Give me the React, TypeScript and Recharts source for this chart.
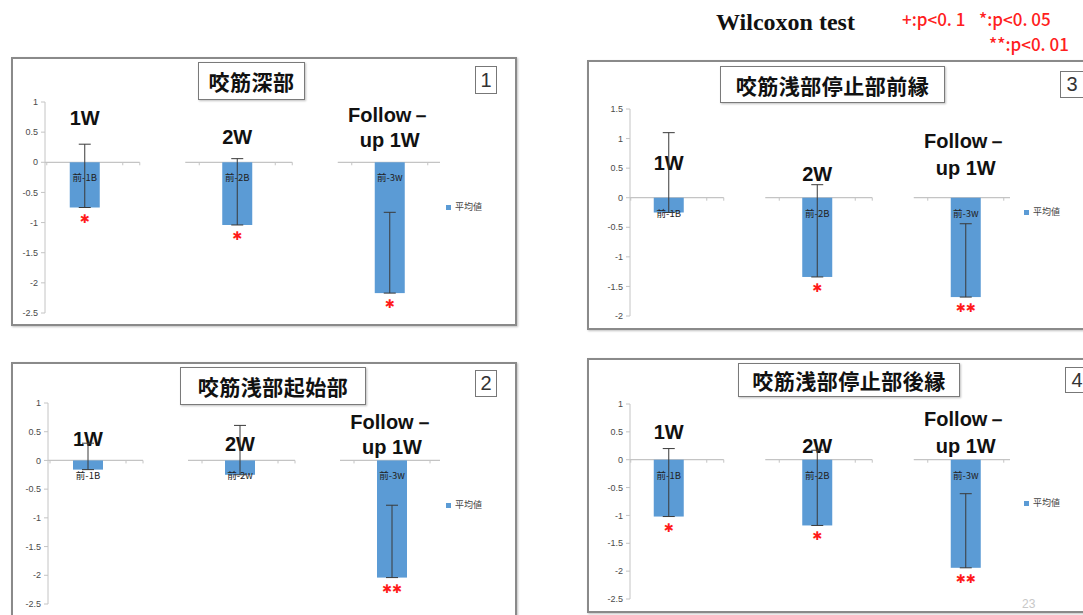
import React from 'react';
import { BarChart, Bar, XAxis, YAxis, ErrorBar, Legend } from 'recharts';

// ---------- data ----------
const periods = ['1W', '2W', 'Follow－up 1W'];
const seriesName = '平均値';

const titles = ['咬筋深部', '咬筋浅部起始部', '咬筋浅部停止部前縁', '咬筋浅部停止部後縁'];
const panelNumbers = ['1', '2', '3', '4'];

const tags1 = ['前-1B', '前-2B', '前-3w'];
const means1 = [-0.75, -1.04, -2.17];
const sd1 = [1.05, 1.1, 1.34];
const sig1 = ['*', '*', '*'];

const tags2 = ['前-1B', '前-2w', '前-3w'];
const means2 = [-0.16, -0.25, -2.04];
const sd2 = [0.46, 0.86, 1.26];
const sig2 = ['', '', '**'];

const tags3 = ['前-1B', '前-2B', '前-3w'];
const means3 = [-0.25, -1.34, -1.68];
const sd3 = [1.35, 1.56, 1.24];
const sig3 = ['', '*', '**'];

const tags4 = ['前-1B', '前-2B', '前-3w'];
const means4 = [-1.02, -1.18, -1.94];
const sd4 = [1.22, 1.35, 1.33];
const sig4 = ['*', '*', '**'];

const ticksA = [1, 0.5, 0, -0.5, -1, -1.5, -2, -2.5];
const ticksB = [1.5, 1, 0.5, 0, -0.5, -1, -1.5, -2];

const testName = 'Wilcoxon test';
const sigLegend = ['+:p<0. 1', '*:p<0. 05', '**:p<0. 01'];
const pageNo = '23';

// ---------- build ----------
const build = (tags: string[], means: number[], sd: number[], sig: string[]) =>
  periods.map((period, i) => ({
    idx: i,
    period,
    tag: tags[i],
    mean: means[i],
    err: [0, sd[i]],
    sig: sig[i],
  }));

// layout (page coordinates)
const panels = [
  {
    data: build(tags1, means1, sd1, sig1), title: titles[0], num: panelNumbers[0],
    domain: [-2.5, 1], ticks: ticksA,
    box: { l: 11, t: 57, w: 506, h: 269 },
    plot: { l: 45, t: 102, b: 313, r: 440 },
    centers: [85, 238, 390],
    labelDy: [[37], [18], [40, 15]],
    legend: [446, 201],
    titleBox: { l: 198, t: 62, w: 107, h: 38 },
    numBox: { l: 475, t: 66, w: 22, h: 28 },
  },
  {
    data: build(tags2, means2, sd2, sig2), title: titles[1], num: panelNumbers[1],
    domain: [-2.5, 1], ticks: ticksA,
    box: { l: 11, t: 362, w: 506, h: 265 },
    plot: { l: 48, t: 403, b: 604, r: 440 },
    centers: [88, 240, 392],
    labelDy: [[14], [9], [31, 6]],
    legend: [446, 499],
    titleBox: { l: 180, t: 367, w: 186, h: 38 },
    numBox: { l: 475, t: 370, w: 22, h: 27 },
  },
  {
    data: build(tags3, means3, sd3, sig3), title: titles[2], num: panelNumbers[2],
    domain: [-2, 1.5], ticks: ticksB,
    box: { l: 587, t: 60, w: 520, h: 270 },
    plot: { l: 630, t: 109, b: 316, r: 1010 },
    centers: [669, 818, 966],
    labelDy: [[28], [17], [50, 23]],
    legend: [1024, 206],
    titleBox: { l: 720, t: 66, w: 225, h: 37 },
    numBox: { l: 1060, t: 71, w: 24, h: 27 },
  },
  {
    data: build(tags4, means4, sd4, sig4), title: titles[3], num: panelNumbers[3],
    domain: [-2.5, 1], ticks: ticksA,
    box: { l: 587, t: 358, w: 520, h: 255 },
    plot: { l: 630, t: 404, b: 599, r: 1010 },
    centers: [669, 818, 966],
    labelDy: [[21], [7], [34, 7]],
    legend: [1024, 497],
    titleBox: { l: 738, t: 363, w: 222, h: 34 },
    numBox: { l: 1065, t: 367, w: 24, h: 26 },
  },
];

const BAR_FILL = '#5b9bd5';
const YAXIS_W = 30;

const splitLabel = (s: string) => {
  const k = s.indexOf('－');
  return k >= 0 ? [s.slice(0, k + 1), s.slice(k + 1)] : [s];
};

const makeShape = (cfg: any) => (props: any) => {
  const { x, y, width, height, payload, index } = props;
  const top = Math.min(y, y + height);
  const bottom = Math.max(y, y + height);
  const zeroY = payload.mean < 0 ? top : bottom;
  const cx = x + width / 2;
  const segL = Math.max(cfg.plot.l - cfg.box.l, cx - 52);
  const segR = cx + 55;
  const lines = splitLabel(payload.period);
  const dys: number[] = cfg.labelDy[index] || [];
  const stars = payload.sig ? payload.sig.replace(/\*/g, '✱') : '';
  return (
    <g>
      <line x1={segL} x2={segR} y1={zeroY} y2={zeroY} stroke="#c4c4c4" strokeWidth={1.3} />
      <line x1={cx - 38} x2={cx - 38} y1={zeroY} y2={zeroY + 3} stroke="#c4c4c4" />
      <line x1={cx + 38} x2={cx + 38} y1={zeroY} y2={zeroY + 3} stroke="#c4c4c4" />
      <line x1={segR} x2={segR} y1={zeroY} y2={zeroY + 3} stroke="#c4c4c4" />
      <rect x={x} y={top} width={width} height={bottom - top} fill={BAR_FILL} />
      <text x={cx} y={zeroY + 19} textAnchor="middle" fontSize={9.5} fill="#222"
        fontFamily="'Noto Sans CJK JP', sans-serif">{payload.tag}</text>
      {stars && (
        <text x={cx} y={bottom + 15} textAnchor="middle" fontSize={12} fill="#ff1a1a"
          fontFamily="'DejaVu Sans', sans-serif">{stars}</text>
      )}
      {lines.map((ln, i) => (
        <text key={i} x={cx} y={zeroY - (dys[i] ?? 0)}
          textAnchor="middle" fontSize={20} fontWeight="bold" fill="#111"
          fontFamily="'Liberation Sans', Arial, sans-serif">{ln}</text>
      ))}
    </g>
  );
};

const Panel = ({ cfg }: { cfg: any }) => {
  const { box, plot, centers, titleBox, numBox } = cfg;
  const unit = (centers[2] - centers[0]) / 2;
  const xMin = -(centers[0] - plot.l) / unit;
  const xMax = 2 + (plot.r - centers[2]) / unit;
  const margin = {
    left: plot.l - box.l - YAXIS_W,
    top: plot.t - box.t,
    bottom: box.t + box.h - plot.b,
    right: box.l + box.w - plot.r,
  };
  return (
    <>
      <div style={{
        position: 'absolute', left: box.l, top: box.t, width: box.w, height: box.h,
        border: '2px solid #8a8a8a', boxSizing: 'border-box', boxShadow: '1px 1px 2px rgba(0,0,0,0.25)',
      }} />
      <div style={{ position: 'absolute', left: box.l, top: box.t, width: box.w, height: box.h }}>
        <BarChart width={box.w} height={box.h} data={cfg.data} margin={margin}>
          <XAxis type="number" dataKey="idx" domain={[xMin, xMax]} hide allowDataOverflow />
          <YAxis
            type="number"
            domain={cfg.domain}
            ticks={cfg.ticks}
            interval={0}
            width={YAXIS_W}
            tickSize={4}
            tickMargin={3}
            allowDataOverflow
            axisLine={{ stroke: '#c4c4c4' }}
            tickLine={{ stroke: '#c4c4c4' }}
            tick={{ fontSize: 9, fill: '#4a4a4a', fontFamily: "'Liberation Sans', sans-serif" }}
          />
          <Legend
            layout="horizontal"
            verticalAlign="middle"
            align="center"
            wrapperStyle={{ position: 'absolute', left: cfg.legend[0] - box.l, top: cfg.legend[1] - box.t, width: 70 }}
            content={(p: any) => (
              <div style={{ display: 'flex', alignItems: 'center', fontSize: 9, color: '#444',
                fontFamily: "'Noto Sans CJK JP', sans-serif", lineHeight: '12px' }}>
                {(p.payload || []).map((e: any, i: number) => (
                  <span key={i} style={{ display: 'flex', alignItems: 'center' }}>
                    <span style={{ display: 'inline-block', width: 5, height: 5, background: BAR_FILL, marginRight: 4 }} />
                    {e.value}
                  </span>
                ))}
              </div>
            )}
          />
          <Bar dataKey="mean" name={seriesName} fill={BAR_FILL} barSize={30}
            isAnimationActive={false} shape={makeShape(cfg)}>
            <ErrorBar dataKey="err" direction="y" width={6} stroke="#3a3a3a" strokeWidth={1} />
          </Bar>
        </BarChart>
      </div>
      <div style={{
        position: 'absolute', left: titleBox.l, top: titleBox.t, width: titleBox.w, height: titleBox.h,
        border: '1.5px solid #7a7a7a', boxSizing: 'border-box', background: '#fff',
        boxShadow: '1px 1px 2px rgba(0,0,0,0.25)',
        display: 'flex', alignItems: 'center', justifyContent: 'center',
        fontFamily: "'Noto Sans CJK JP', sans-serif", fontWeight: 700, fontSize: 21, color: '#111',
        letterSpacing: 0.5, whiteSpace: 'nowrap',
      }}>{cfg.title}</div>
      <div style={{
        position: 'absolute', left: numBox.l, top: numBox.t, width: numBox.w, height: numBox.h,
        border: '1px solid #777', boxSizing: 'border-box', background: '#fff',
        display: 'flex', alignItems: 'center', justifyContent: 'center',
        fontFamily: "'Liberation Sans', sans-serif", fontSize: 20, color: '#333',
      }}>{cfg.num}</div>
    </>
  );
};

const redText: React.CSSProperties = {
  position: 'absolute', fontFamily: "'Noto Sans CJK JP', sans-serif",
  fontSize: 17, fontWeight: 500, color: '#ff2020', whiteSpace: 'nowrap', lineHeight: '20px',
};

export default function App() {
  return (
    <div style={{
      position: 'absolute', left: 0, top: 0, width: 1083, height: 615, overflow: 'hidden',
      background: '#fff', fontFamily: "'Liberation Sans', sans-serif",
    }}>
      <div style={{
        position: 'absolute', left: 716, top: 8, fontFamily: "'Liberation Serif', 'DejaVu Serif', serif",
        fontWeight: 700, fontSize: 24, color: '#111', whiteSpace: 'nowrap', lineHeight: '28px',
      }}>{testName}</div>
      <div style={{ ...redText, left: 902, top: 9 }}>{sigLegend[0]}</div>
      <div style={{ ...redText, left: 979, top: 9 }}>{sigLegend[1]}</div>
      <div style={{ ...redText, left: 989, top: 34 }}>{sigLegend[2]}</div>
      {panels.map((p, i) => <Panel key={i} cfg={p} />)}
      <div style={{
        position: 'absolute', left: 1022, top: 597, fontSize: 12, color: '#c8c8c8',
        fontFamily: "'Liberation Sans', sans-serif",
      }}>{pageNo}</div>
    </div>
  );
}
